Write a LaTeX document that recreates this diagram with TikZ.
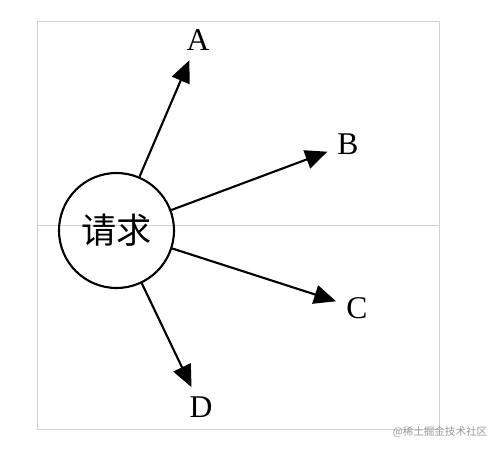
\documentclass[tikz,border=0pt]{standalone}
\usepackage{fontspec}
\setmainfont{Liberation Serif}
\newfontfamily\cjk{Noto Sans CJK SC}
\usepackage{tikz}
\usetikzlibrary{arrows.meta}

\begin{document}
\begin{tikzpicture}[x=0.02cm, y=-0.02cm, every node/.style={font=\fontsize{18}{20}\selectfont}, req/.style={draw, circle, line width=1.2pt, minimum size=2.3cm, inner sep=0pt, font=\cjk\fontsize{20}{22}\selectfont}, arr/.style={-{Triangle[length=0.44cm, width=0.38cm]}, line width=1.2pt, shorten >=0.44cm}, frm/.style={draw=black!18, line width=0.5pt}]
\useasboundingbox (0,0) rectangle (500,450);
\draw[frm] (37,21) rectangle (439,429);
\draw[frm] (37,225) -- (439,225);
\node[req] (req) at (116.5,230.5) {请求};
\node (a) at (198,40) {A};
\node (b) at (348,144) {B};
\node (c) at (357,308) {C};
\node (d) at (201,407) {D};
\node[font=\cjk\fontsize{6}{7}\selectfont, text=black!40] (wm) at (440,432) {@稀土掘金技术社区};
\draw[arr] (req) -- (a.center); \draw[arr] (req) -- (b.center); \draw[arr] (req) -- (c.center); \draw[arr] (req) -- (d.center);
\end{tikzpicture}
\end{document}
